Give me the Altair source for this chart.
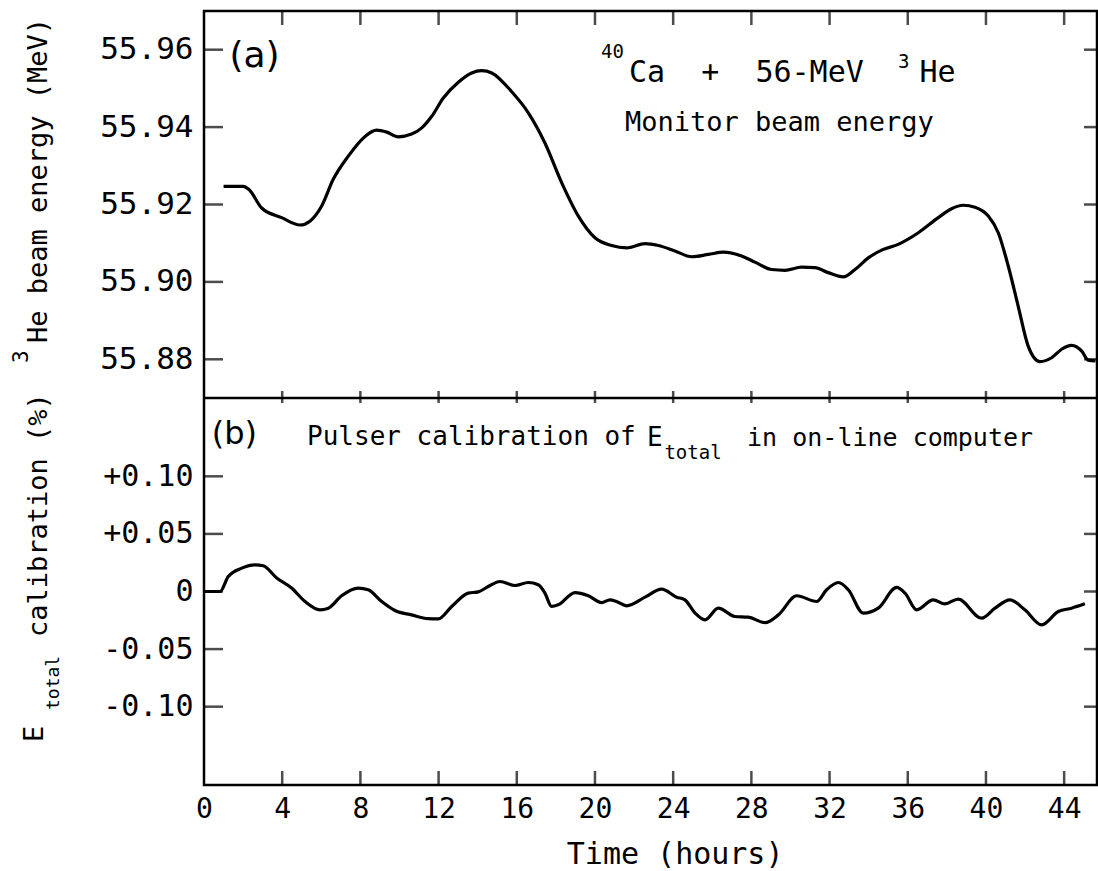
import altair as alt
import pandas as pd

# ---------------- data ----------------
top_hours = [1.0, 2.0, 2.3, 2.95, 3.97, 4.91, 5.42, 6.02, 6.61, 7.38,
             8.24, 8.83, 9.35, 9.94, 10.62, 11.14, 11.65, 12.24, 13.01, 13.69,
             14.2, 14.72, 15.73, 16.59, 17.44, 18.3, 19.15, 20.0, 20.85, 21.62,
             22.56, 23.24, 24.09, 24.95, 25.8, 26.56, 27.5, 28.18, 29.04, 29.72,
             30.57, 31.25, 31.93, 32.7, 33.3, 33.98, 34.66, 35.51, 36.54, 37.56,
             38.24, 38.84, 39.44, 40.12, 40.63, 41.14, 41.65, 42.16, 42.76, 43.36,
             43.87, 44.38, 44.9, 45.23, 45.6]
top_energy = [55.9247, 55.9247, 55.9239, 55.9191, 55.9166, 55.9147, 55.9157, 55.9196, 55.9265, 55.9325,
              55.9376, 55.9392, 55.9387, 55.9375, 55.9382, 55.9398, 55.9428, 55.9475, 55.9516, 55.954,
              55.9546, 55.954, 55.9492, 55.9437, 55.9359, 55.9256, 55.917, 55.9114, 55.9094, 55.9088,
              55.9099, 55.9094, 55.908, 55.9065, 55.9071, 55.9077, 55.9067, 55.9051, 55.9032, 55.903,
              55.9038, 55.9037, 55.9024, 55.9013, 55.9032, 55.9062, 55.9082, 55.9097, 55.9127, 55.9166,
              55.9189, 55.9198, 55.9193, 55.917, 55.9127, 55.9041, 55.8937, 55.8834, 55.8794, 55.8804,
              55.8826, 55.8836, 55.8821, 55.8798, 55.8796]

bot_hours = [0, 0.82, 1.24, 1.93, 2.61, 3.03, 3.72, 4.48, 5.17, 5.93,
             6.36, 7.04, 7.89, 8.4, 9.09, 9.77, 10.62, 11.47, 11.98, 12.67,
             13.52, 14.03, 14.54, 15.14, 15.91, 16.59, 17.1, 17.44, 17.78, 18.12,
             18.98, 19.66, 20.34, 20.77, 21.1, 21.62, 22.56, 23.41, 24.18, 24.6,
             25.12, 25.63, 26.31, 27.16, 27.84, 28.7, 29.38, 30.32, 31.34, 31.85,
             32.45, 32.96, 33.72, 34.49, 35.43, 35.86, 36.46, 37.3, 37.9, 38.58,
             39.78, 40.46, 41.23, 41.99, 42.85, 43.7, 44.38, 45.06]
bot_calib = [0, 0, 0.013, 0.0203, 0.0232, 0.0223, 0.0117, 0.003, -0.0087, -0.0159,
             -0.0145, -0.0037, 0.003, 0.0015, -0.0087, -0.0165, -0.0203, -0.0235, -0.0237, -0.013,
             -0.0014, -0.0003, 0.0043, 0.0087, 0.0052, 0.0078, 0.0058, -0.0014, -0.013, -0.0116,
             -0.0009, -0.0037, -0.0096, -0.0072, -0.0087, -0.0124, -0.0049, 0.0021, -0.0049, -0.0072,
             -0.0188, -0.0246, -0.0145, -0.0217, -0.0223, -0.027, -0.0203, -0.0037, -0.0087, 0.0015,
             0.0078, 0.0015, -0.0188, -0.0145, 0.0035, -0.0014, -0.0159, -0.0072, -0.0107, -0.0066,
             -0.0232, -0.0145, -0.0072, -0.0159, -0.029, -0.0174, -0.0145, -0.0107]

x_label_values = [0, 4, 8, 12, 16, 20, 24, 28, 32, 36, 40, 44]
x_tick_values = [4, 8, 12, 16, 20, 24, 28, 32, 36, 40, 44]
top_tick_values = [55.88, 55.90, 55.92, 55.94, 55.96]
bot_tick_values = [-0.10, -0.05, 0.0, 0.05, 0.10]

NB = "\u00a0"
# annotation texts (text, hours, value)
top_big_text = ["Ca" + NB * 2 + "+" + NB * 2 + "56-MeV", "He"]
top_big_x = [21.74, 36.6]
top_big_y = [55.9517, 55.9517]
top_mon_text = ["Monitor beam energy"]
top_mon_x = [21.53]
top_mon_y = [55.9390]
top_sup_text = ["40", "3"]
top_sup_x = [20.31, 35.5]
top_sup_y = [55.9579, 55.9554]
panel_a = ["(a)"]
panel_b = ["(b)"]
bot_big_text = ["Pulser calibration of", "E"]
bot_big_x = [5.27, 22.66]
bot_big_y = [0.1276, 0.1262]
bot_mid_text = ["in on-line computer"]
bot_mid_x = [27.78]
bot_mid_y = [0.1262]
bot_sub_text = ["total"]
bot_sub_x = [23.55]
bot_sub_y = [0.1150]

# ---------------- layout ----------------
W, H = 893, 774
HALF = 387
MONO = "DejaVu Sans Mono"
SANS = "DejaVu Sans"

xs = alt.Scale(domain=[0, 45.68], nice=False, zero=False)
ys_top = alt.Scale(domain=[55.87, 55.97], range=[HALF, 0], nice=False, zero=False)
ys_bot = alt.Scale(domain=[-0.168, 0.168], range=[H, HALF], nice=False, zero=False)

x_axis = alt.Axis(orient="bottom", values=x_label_values, format="d", labelFontSize=28,
                  labelFont=MONO, labelColor="black", labelPadding=10, ticks=False,
                  domain=False, grid=False, title=None, labelFlush=False, labelOverlap=False)
top_axis = alt.Axis(orient="left", values=top_tick_values, format=".2f", labelFontSize=31,
                    labelFont=MONO, labelColor="black", labelPadding=11, ticks=False,
                    domain=False, grid=False, title=None, labelOverlap=False)
bot_axis = alt.Axis(orient="left", values=bot_tick_values, labelFontSize=30, labelFont=MONO,
                    labelColor="black", labelPadding=11, ticks=False,
                    domain=False, grid=False, title=None, labelOverlap=False,
                    labelExpr="datum.value > 0.001 ? '+' + format(datum.value, '.2f') : "
                              "(datum.value < -0.001 ? '-' + format(-datum.value, '.2f') : '0')")

df_top = pd.DataFrame({"hours": top_hours, "energy": top_energy})
df_bot = pd.DataFrame({"hours": bot_hours, "calib": bot_calib})

layers = []

# ---- top panel ----
layers.append(alt.Chart(df_top).mark_line(color="black", strokeWidth=3.2, interpolate="monotone").encode(
    x=alt.X("hours:Q", scale=xs, axis=x_axis),
    y=alt.Y("energy:Q", scale=ys_top, axis=top_axis),
))
# ---- bottom panel ----
layers.append(alt.Chart(df_bot).mark_line(color="black", strokeWidth=3.2, interpolate="monotone").encode(
    x=alt.X("hours:Q", scale=xs, axis=None),
    y=alt.Y("calib:Q", scale=ys_bot, axis=bot_axis),
))


def ytick(values, scale, xpix, size):
    return alt.Chart(pd.DataFrame({"v": values})).mark_tick(
        color="black", thickness=2.5, size=size, orient="horizontal").encode(
        y=alt.Y("v:Q", scale=scale, axis=None), x=alt.value(xpix))


layers += [ytick(top_tick_values, ys_top, 9.5, 19), ytick(top_tick_values, ys_top, W - 6.5, 13),
           ytick(bot_tick_values, ys_bot, 9.5, 19), ytick(bot_tick_values, ys_bot, W - 6.5, 13)]

# divider between the panels
layers.append(alt.Chart(pd.DataFrame({"v": [55.87]})).mark_rule(color="black", strokeWidth=2.5).encode(
    y=alt.Y("v:Q", scale=ys_top, axis=None), x=alt.value(0), x2=alt.value(W)))


def txt(df, scale, size, font=MONO):
    return alt.Chart(df).mark_text(align="left", baseline="alphabetic", font=font,
                                   fontSize=size, color="black").encode(
        x=alt.X("x:Q", scale=xs, axis=None),
        y=alt.Y("y:Q", scale=scale, axis=None),
        text="t:N")


layers += [
    txt(pd.DataFrame({"t": top_big_text, "x": top_big_x, "y": top_big_y}), ys_top, 30),
    txt(pd.DataFrame({"t": top_mon_text, "x": top_mon_x, "y": top_mon_y}), ys_top, 27),
    txt(pd.DataFrame({"t": top_sup_text, "x": top_sup_x, "y": top_sup_y}), ys_top, 19),
    txt(pd.DataFrame({"t": panel_a, "x": [1.3], "y": [55.9555]}), ys_top, 36, SANS),
    txt(pd.DataFrame({"t": bot_big_text, "x": bot_big_x, "y": bot_big_y}), ys_bot, 26),
    txt(pd.DataFrame({"t": bot_mid_text, "x": bot_mid_x, "y": bot_mid_y}), ys_bot, 25),
    txt(pd.DataFrame({"t": bot_sub_text, "x": bot_sub_x, "y": bot_sub_y}), ys_bot, 19),
    txt(pd.DataFrame({"t": panel_b, "x": [0.4], "y": [0.1280]}), ys_bot, 32, SANS),
]

# x ticks on the three horizontal boundaries (pointing into the panels)
xt = pd.DataFrame({"h": x_tick_values})


def xtick(ypix, size):
    return alt.Chart(xt).mark_tick(color="black", thickness=2.5, size=size, orient="vertical").encode(
        x=alt.X("h:Q", scale=xs, axis=None), y=alt.value(ypix))


layers += [xtick(7, 14), xtick(HALF - 1, 12), xtick(H - 7, 14)]


# axis titles outside the plot area
def vtitle(text, size, xpix, ypix):
    return alt.Chart(pd.DataFrame({"t": [text]})).mark_text(
        angle=270, align="left", baseline="alphabetic", font=MONO, fontSize=size,
        color="black").encode(x=alt.value(xpix), y=alt.value(ypix), text="t:N")


layers += [
    vtitle("3", 21, -176, 352),
    vtitle("He beam energy (MeV)", 27, -157, 332),
    vtitle("E", 27, -161, 731),
    vtitle("total", 18, -145, 699),
    vtitle("calibration (%)", 27, -157, 626),
]

layers.append(alt.Chart(pd.DataFrame({"t": ["Time (hours)"], "x": [24.1]})).mark_text(
    align="center", baseline="alphabetic", font=MONO, fontSize=30, color="black").encode(
    x=alt.X("x:Q", scale=xs, axis=None), y=alt.value(853), text="t:N"))

chart = alt.layer(*layers).resolve_scale(y="independent").resolve_axis(x="independent").properties(
    width=W, height=H,
    autosize=alt.AutoSizeParams(type="none"),
    padding={"left": 204, "top": 11, "right": 1, "bottom": 86},
    background="white",
).configure_view(stroke="black", strokeWidth=2.5)

chart.save("out.html", embed_options={"renderer": "svg", "actions": False})
